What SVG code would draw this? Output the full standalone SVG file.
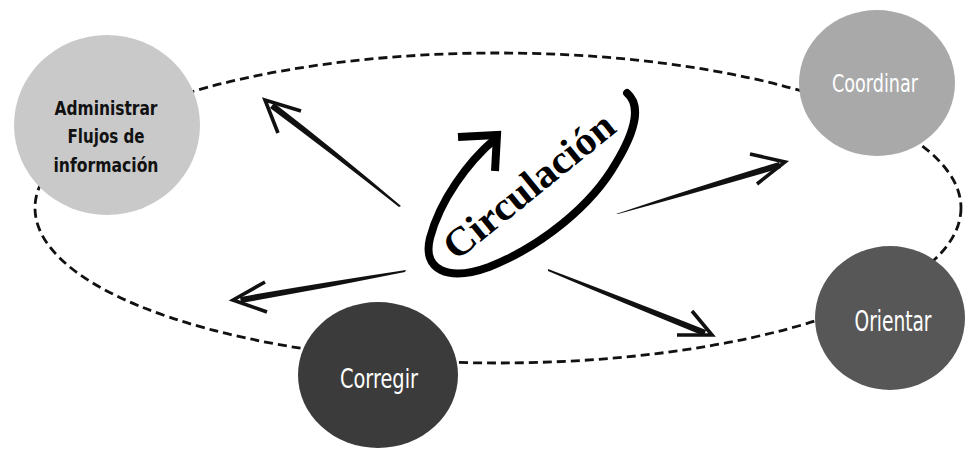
<svg xmlns="http://www.w3.org/2000/svg" width="965" height="449" viewBox="0 0 965 449">
  <defs>
    <style>
      .orbit { fill: none; stroke: #111; stroke-width: 2.8; stroke-dasharray: 9 5; }
      .shaft { fill: #111; stroke: none; }
      .head { fill: none; stroke: #111; stroke-width: 3.6; stroke-linejoin: miter; stroke-linecap: butt; }
      .loop { fill: none; stroke: #000; stroke-width: 8; stroke-linecap: round; }
      .loophead { fill: none; stroke: #000; stroke-width: 8; stroke-linejoin: miter; stroke-linecap: butt; }
      .lbl { font-family: "DejaVu Sans Condensed", "DejaVu Sans", "Liberation Sans", sans-serif; text-anchor: middle; }
      .dark { fill: #111; font-weight: bold; font-size: 20px; }
      .light { fill: #fff; }
      .title { font-family: "Liberation Serif", "DejaVu Serif", serif; font-weight: bold; font-size: 40px; fill: #000; text-anchor: middle; }
    </style>
  </defs>

  <rect width="965" height="449" fill="#fff"/>

  <!-- dashed orbit joining the four functions -->
  <g id="orbit">
    <ellipse class="orbit" cx="498" cy="208" rx="463" ry="155"/>
  </g>

  <!-- radiating arrows from the centre -->
  <g id="connectors">
    <!-- towards Administrar -->
    <path class="shaft" d="M 401 206 Q 335 150 274 103 L 270 108 Q 332 154 399 207 Z"/>
    <polyline class="head" points="301,111 265,100 278,133"/>
    <!-- towards lower left -->
    <path class="shaft" d="M 406 270 Q 320 283 240 297 L 241 303 Q 322 289 405 272 Z"/>
    <polyline class="head" points="265,282 233,300 267,312"/>
    <!-- towards Coordinar -->
    <path class="shaft" d="M 616 214 Q 700 186 779 162 L 781 168 Q 702 191 618 214 Z"/>
    <polyline class="head" points="750,154 785,162 757,184"/>
    <!-- towards lower right -->
    <path class="shaft" d="M 548 269 Q 630 300 706 330 L 704 336 Q 628 305 548 271 Z"/>
    <polyline class="head" points="692,311 712,335 677,335"/>
  </g>

  <!-- central loop arrow with its label -->
  <g id="circulacion">
    <path class="loop" d="M 495 139 C 468 162 440 200 430 238 C 422 270 448 282 489 267 C 542 246 592 205 616 163 C 636 130 641 105 627 93"/>
    <polyline class="loophead" points="458,137 497,135 495,171"/>
    <text class="title" transform="translate(529,186) rotate(-39)" x="0" y="13" textLength="208" lengthAdjust="spacingAndGlyphs">Circulación</text>
  </g>

  <g id="administrar">
    <ellipse cx="107" cy="125" rx="93" ry="90" fill="#c9c9c9"/>
    <text class="lbl dark" x="106" y="115" textLength="103" lengthAdjust="spacingAndGlyphs">Administrar</text>
    <text class="lbl dark" x="106" y="143" textLength="77" lengthAdjust="spacingAndGlyphs">Flujos de</text>
    <text class="lbl dark" x="106" y="172" textLength="105" lengthAdjust="spacingAndGlyphs">información</text>
  </g>

  <g id="coordinar">
    <ellipse cx="877" cy="83" rx="78" ry="73" fill="#a9a9a9"/>
    <text class="lbl light" x="875" y="92" font-size="25" textLength="86" lengthAdjust="spacingAndGlyphs">Coordinar</text>
  </g>

  <g id="orientar">
    <ellipse cx="890" cy="318" rx="75" ry="72" fill="#575757"/>
    <text class="lbl light" x="893" y="331" font-size="29" textLength="77" lengthAdjust="spacingAndGlyphs">Orientar</text>
  </g>

  <g id="corregir">
    <ellipse cx="378" cy="375" rx="80" ry="73" fill="#3b3b3b"/>
    <text class="lbl light" x="379" y="388" font-size="27" textLength="78" lengthAdjust="spacingAndGlyphs">Corregir</text>
  </g>
</svg>
